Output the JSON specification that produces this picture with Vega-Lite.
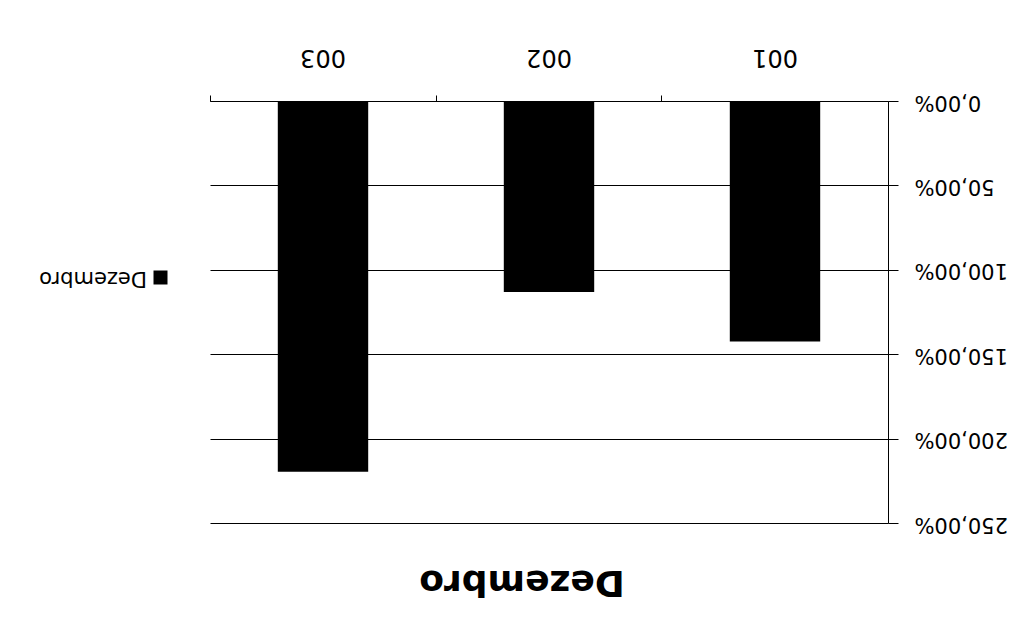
{
  "$schema": "https://vega.github.io/schema/vega-lite/v6.json",
  "autosize": {"type": "none"},
  "width": 678,
  "height": 422,
  "padding": {"left": 210, "top": 101, "right": 140, "bottom": 108},
  "background": "white",
  "config": {
    "font": "DejaVu Sans",
    "view": {"stroke": null}
  },
  "title": {
    "text": "Dezembro",
    "orient": "bottom",
    "angle": 180,
    "baseline": "middle",
    "font": "DejaVu Sans",
    "fontSize": 36,
    "fontWeight": "bold",
    "color": "black",
    "offset": 48,
    "dx": 27
  },
  "data": {
    "values": [
      {"cat": "001", "value": 1.425, "series": "Dezembro"},
      {"cat": "002", "value": 1.132, "series": "Dezembro"},
      {"cat": "003", "value": 2.196, "series": "Dezembro"}
    ]
  },
  "mark": {"type": "bar", "opacity": 1},
  "encoding": {
    "x": {
      "field": "cat",
      "type": "nominal",
      "sort": "descending",
      "scale": {"paddingInner": 0.6, "paddingOuter": 0.3},
      "axis": {
        "orient": "top",
        "title": null,
        "labelFont": "DejaVu Sans",
        "labelAngle": 180,
        "labelAlign": "center",
        "labelBaseline": "middle",
        "labelFontSize": 24,
        "labelColor": "black",
        "labelPadding": 39,
        "bandPosition": -0.75,
        "tickSize": 6,
        "tickColor": "black",
        "domainColor": "black",
        "grid": false
      }
    },
    "y": {
      "field": "value",
      "type": "quantitative",
      "scale": {"domain": [0, 2.5], "reverse": true, "nice": false},
      "axis": {
        "orient": "right",
        "title": null,
        "values": [0, 0.5, 1, 1.5, 2, 2.5],
        "labelExpr": "replace(format(datum.value, '.2%'), '.', ',')",
        "labelFont": "DejaVu Sans",
        "labelAngle": 180,
        "labelAlign": "right",
        "labelBaseline": "middle",
        "labelFontSize": 21,
        "labelColor": "black",
        "labelPadding": 16,
        "tickSize": 10,
        "tickColor": "black",
        "domainColor": "black",
        "grid": true,
        "gridColor": "black",
        "gridOpacity": 1,
        "gridWidth": 1
      }
    },
    "color": {
      "field": "series",
      "type": "nominal",
      "scale": {"range": ["black"]},
      "legend": {
        "orient": "none",
        "legendX": -60,
        "legendY": 166,
        "padding": 0,
        "title": null,
        "symbolType": "square",
        "symbolSize": 196,
        "symbolStrokeWidth": 0,
        "symbolFillColor": "black",
        "labelFont": "DejaVu Sans",
        "labelFontSize": 21,
        "labelColor": "black",
        "labelAlign": "left",
        "labelBaseline": "middle",
        "labelOffset": -24,
        "encoding": {"labels": {"angle": {"value": 180}}}
      }
    }
  }
}
